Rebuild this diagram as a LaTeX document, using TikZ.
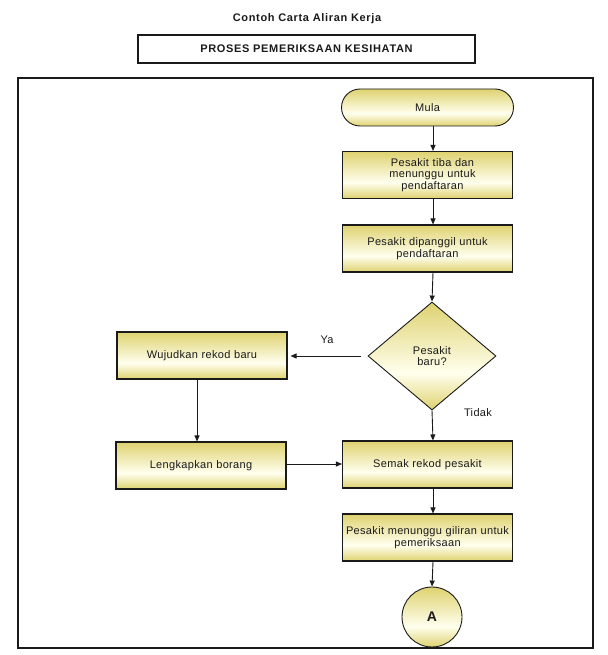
\documentclass[tikz,border=0pt]{standalone}
\usepackage{fontspec}
\setmainfont{Liberation Sans}[LetterSpace=3]
\newfontfamily\titlefont{Liberation Sans}[LetterSpace=6]
\usetikzlibrary{arrows.meta,shapes.geometric}
\definecolor{olv}{RGB}{222,210,112}
\definecolor{lite}{RGB}{255,255,238}
\definecolor{ink}{RGB}{26,26,26}
\pgfdeclareverticalshading{boxshade}{100bp}{color(0bp)=(olv); color(25bp)=(olv); color(42bp)=(lite); color(75bp)=(olv); color(100bp)=(olv)}
\tikzset{
  base/.style={draw=ink, line width=1.1pt, shading=boxshade, align=center, inner sep=0pt,
    font=\fontsize{11}{11.8}\selectfont, text=ink},
  stepbox/.style={base, rectangle, minimum width=170pt, minimum height=47pt, text width=168pt},
  startbox/.style={base, rectangle, rounded corners=18.5pt, minimum width=172pt, minimum height=37pt, line width=0.9pt},
  decbox/.style={base, diamond, minimum width=128pt, minimum height=108pt, line width=0.9pt},
  conn/.style={base, circle, minimum size=60pt, line width=0.9pt, font=\bfseries\fontsize{14}{14}\selectfont},
  arr/.style={draw=ink, line width=0.9pt, -{Triangle[length=6pt,width=5pt]}},
  lbl/.style={font=\fontsize{11}{12}\selectfont, text=ink, inner sep=0pt},
}
\begin{document}
\begin{tikzpicture}[x=1pt,y=-1pt]
\useasboundingbox (0,0) rectangle (607,655);
\node[font=\titlefont\bfseries\fontsize{11}{12}\selectfont, text=ink] (title) at (307,19) {Contoh Carta Aliran Kerja};
\node[draw=ink, line width=1.1pt, minimum width=337pt, minimum height=28pt, inner sep=0pt,
  font=\titlefont\bfseries\fontsize{11}{12}\selectfont, text=ink] (head) at (306.5,49) {PROSES PEMERIKSAAN KESIHATAN};
\node[draw=ink, line width=1.3pt, minimum width=575pt, minimum height=570pt, inner sep=0pt] (frame) at (305.5,363) {};
\coordinate (col) at (433,0);
\coordinate (col2) at (197,0);
\node[startbox] (mula) at (427.5,107.5) {Mula};
\node[stepbox] (b1) at (427.5,175) {\hspace*{10pt}Pesakit tiba dan\\\hspace*{10pt}menunggu untuk\\\hspace*{10pt}pendaftaran};
\node[stepbox] (b2) at (427.5,248.5) {Pesakit dipanggil untuk\\pendaftaran};
\node[decbox] (d) at (432,356) {Pesakit\\baru?};
\node[stepbox] (w) at (202,355.5) {Wujudkan rekod baru};
\node[stepbox] (l) at (201,465.5) {Lengkapkan borang};
\node[stepbox] (s) at (427.5,464.5) {Semak rekod pesakit};
\node[stepbox] (m) at (427.5,537.5) {Pesakit menunggu giliran untuk\\pemeriksaan};
\node[conn] (a) at (432,617) {A};
\draw[arr] (mula.south -| col) -- (b1.north -| col);
\draw[arr] (b1.south -| col) -- (b2.north -| col);
\draw[arr] (b2.south -| col) -- (d.north);
\draw[arr, shorten <=7pt, shorten >=3pt] (d.west) -- (d.west -| w.east);
\draw[arr] (d.south) -- (s.north -| col);
\draw[arr] (w.south -| col2) -- (l.north -| col2);
\draw[arr] ([yshift=1.5pt]l.east) -- ([yshift=1.5pt]l.east -| s.west);
\draw[arr] (s.south -| col) -- (m.north -| col);
\draw[arr] (m.south -| col) -- (a.north);
\node[lbl] (ya) at (327,340) {Ya};
\node[lbl] (tidak) at (478,413) {Tidak};
\end{tikzpicture}
\end{document}
